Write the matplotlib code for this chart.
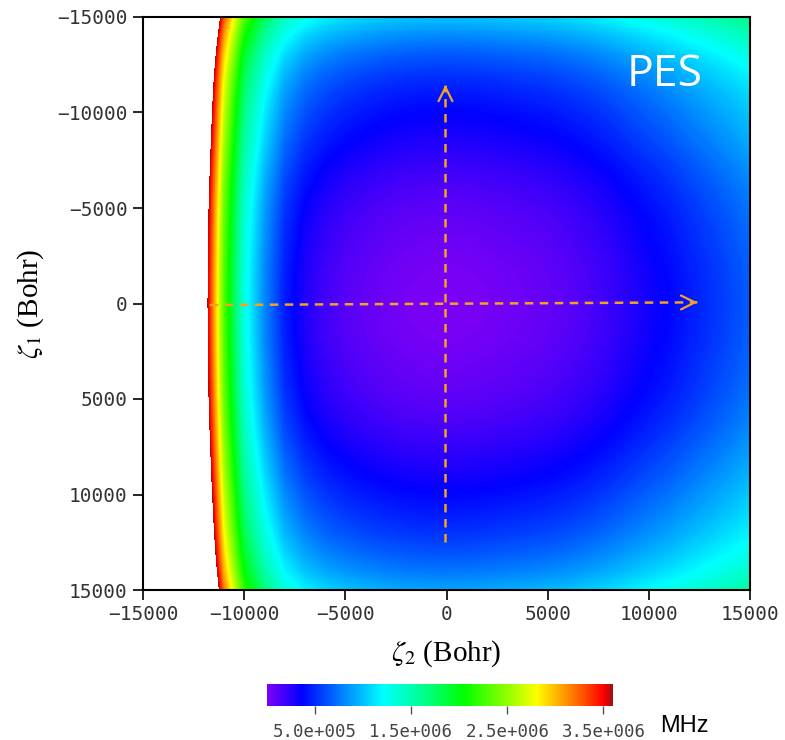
import numpy as np
import matplotlib.pyplot as plt
from matplotlib.colors import LinearSegmentedColormap

plt.rcParams['mathtext.fontset'] = 'stix'

# grid coordinates (Bohr)
zeta2 = np.arange(-15000, 15001, 1000)
zeta1 = np.arange(-15000, 15001, 1000)

# energy profile along zeta2 (MHz), cut through the minimum
pes_z2 = np.array([8.0, 6.5, 5.1, 3.9, 2.3, 1.3, 0.8, 0.45, 0.27, 0.17,
                   0.11, 0.07, 0.04, 0.02, 0.01, 0.005, 0.01, 0.02, 0.035, 0.05,
                   0.07, 0.1, 0.14, 0.19, 0.25, 0.31, 0.37, 0.44, 0.51, 0.58,
                   0.66]) * 1e6
# energy profile along zeta1 (MHz)
pes_z1 = np.array([1.0, 0.8, 0.64, 0.52, 0.43, 0.36, 0.3, 0.24, 0.18, 0.13,
                   0.09, 0.06, 0.04, 0.02, 0.01, 0.005, 0.01, 0.02, 0.04, 0.06,
                   0.09, 0.13, 0.18, 0.24, 0.3, 0.37, 0.44, 0.52, 0.62, 0.74,
                   0.9]) * 1e6

cbar_ticks = [0.5e6, 1.5e6, 2.5e6, 3.5e6]
cbar_labels = ['5.0e+005', '1.5e+006', '2.5e+006', '3.5e+006']
e_min, e_max = 0.0, 3.6e6

# dashed guide paths (zeta2, zeta1)
path_h = ([-11700, 12400], [80, -60])
path_v = ([-50, -50], [12500, -11450])

surface = pes_z1[:, None] + pes_z2[None, :]

cmap = LinearSegmentedColormap.from_list('pes', [
    (0.0, '#7c00f5'),
    (0.10, '#0000ff'),
    (0.23, '#0090ff'),
    (0.335, '#00ffff'),
    (0.45, '#00ff90'),
    (0.57, '#00ff00'),
    (0.72, '#b0ff00'),
    (0.78, '#ffff00'),
    (0.88, '#ff8000'),
    (0.975, '#ff0000'),
    (1.0, '#a01010'),
])
cmap.set_over('white')

mono = 'DejaVu Sans Mono'

fig = plt.figure(figsize=(7.85, 7.4), dpi=100)
ax = fig.add_axes([143 / 785, 1 - 590 / 740, 607 / 785, 573 / 740])

dz = (zeta2[1] - zeta2[0]) / 2
im = ax.imshow(surface, cmap=cmap, vmin=e_min, vmax=e_max,
               extent=[zeta2[0] - dz, zeta2[-1] + dz, zeta1[-1] + dz, zeta1[0] - dz],
               origin='upper', aspect='auto',
               interpolation='bilinear', interpolation_stage='data')
ax.set_xlim(-15000, 15000)
ax.set_ylim(15000, -15000)

ax.set_xticks(np.arange(-15000, 15001, 5000))
ax.set_yticks(np.arange(-15000, 15001, 5000))
ax.tick_params(direction='out', length=7, width=1.2, pad=4,
               labelsize=14, labelcolor='#333333')
for lab in ax.get_xticklabels() + ax.get_yticklabels():
    lab.set_family(mono)
for sp in ax.spines.values():
    sp.set_linewidth(1.5)

ax.set_xlabel(r'$\zeta_2$ (Bohr)', fontsize=21, family='Liberation Serif',
              labelpad=10)
ax.set_ylabel(r'$\zeta_1$ (Bohr)', fontsize=21, family='Liberation Serif',
              labelpad=8)

# guide arrows
orange = '#f5a21e'
for px, py in (path_h, path_v):
    ax.plot(px, py, color=orange, lw=1.8, dashes=(3.4, 2.6))
    ax.annotate('', xy=(px[1], py[1]),
                xytext=(px[1] - (px[1] - px[0]) * 0.01, py[1] - (py[1] - py[0]) * 0.01),
                arrowprops=dict(arrowstyle='->,head_length=0.5,head_width=0.25',
                                color=orange, lw=1.6, mutation_scale=20,
                                shrinkA=0, shrinkB=0))

ax.text(0.86, 0.90, 'PES', transform=ax.transAxes, color='white',
        fontsize=32, family='Open Sans', ha='center', va='center')

cax = fig.add_axes([267 / 785, 1 - 706 / 740, 346 / 785, 22 / 740])
cb = fig.colorbar(im, cax=cax, orientation='horizontal', ticks=cbar_ticks)
cb.set_ticklabels(cbar_labels)
cb.outline.set_visible(False)
cax.tick_params(direction='out', length=6, width=1, color='#555555',
                labelsize=12.5, labelcolor='#444444', pad=6)
for lab in cax.get_xticklabels():
    lab.set_family(mono)

fig.text(660 / 785, 1 - 726 / 740, 'MHz', fontsize=17, family='Liberation Sans',
         va='center', ha='left')

fig.savefig('out.png', dpi=100)
